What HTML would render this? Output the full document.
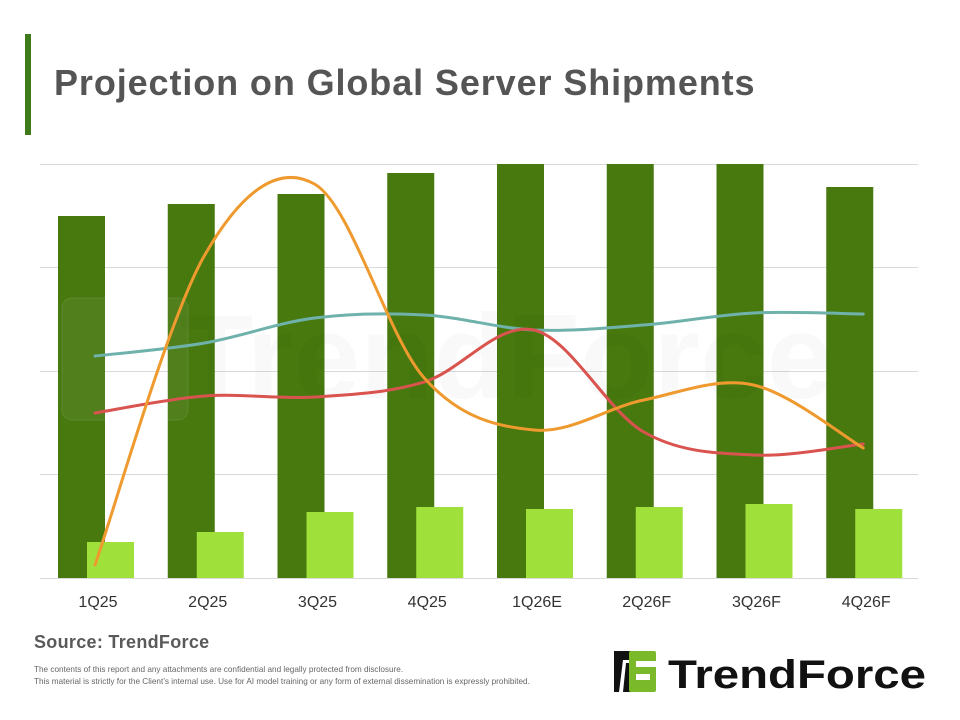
<!DOCTYPE html>
<html><head><meta charset="utf-8"><style>
html,body{margin:0;padding:0;background:#fff;}
body{width:960px;height:720px;position:relative;overflow:hidden;font-family:"Liberation Sans",sans-serif;}
.t{position:absolute;left:54px;top:62px;font-size:36px;font-weight:bold;color:#555;letter-spacing:0.9px;}
.bar{position:absolute;left:25px;top:34px;width:6px;height:101px;background:#3f7a1b;}
.src{position:absolute;left:34px;top:632px;font-size:18px;font-weight:bold;color:#5a5a5a;letter-spacing:0.3px;}
.d{position:absolute;left:34px;font-size:8.2px;color:#666;white-space:nowrap;}
</style></head><body>
<div class="bar"></div>
<div class="t">Projection on Global Server Shipments</div>
<svg id="c" width="960" height="720" style="position:absolute;left:0;top:0">
<g stroke="#d9d9d9" stroke-width="1">
<line x1="40" y1="164.5" x2="918" y2="164.5"/><line x1="40" y1="267.5" x2="918" y2="267.5"/>
<line x1="40" y1="371.5" x2="918" y2="371.5"/><line x1="40" y1="474.5" x2="918" y2="474.5"/>
<line x1="40" y1="578.5" x2="918" y2="578.5"/></g>
<g id="bars"></g>
<text x="180" y="398" font-size="120" font-weight="bold" fill="#000" fill-opacity="0.025" font-family="Liberation Sans">TrendForce</text>
<rect x="62" y="298" width="126" height="122" rx="10" fill="#fff" fill-opacity="0.05" stroke="#fff" stroke-opacity="0.1"/>
<g id="lines" fill="none" stroke-width="3" stroke-linecap="round"></g>
<g id="lab" font-size="16" fill="#333" text-anchor="middle" font-family="Liberation Sans"></g>
<g transform="translate(614,650)">
<polygon points="0,1 30,1 27,10 9,10 5,42 0,42" fill="#111"/>
<polygon points="12,13 20,13 18,42 9,42" fill="#111"/>
<rect x="15" y="1" width="27" height="41" rx="2" fill="#7ab929"/>
<rect x="22" y="11" width="20" height="6" fill="#fff"/>
<rect x="22" y="24" width="14" height="6" fill="#fff"/>
<text x="54" y="38" font-size="40" font-weight="bold" fill="#111" font-family="Liberation Sans" textLength="258" lengthAdjust="spacingAndGlyphs">TrendForce</text>
</g>
</svg>
<div class="src">Source: TrendForce</div>
<div class="d" style="top:665px">The contents of this report and any attachments are confidential and legally protected from disclosure.</div>
<div class="d" style="top:677px">This material is strictly for the Client’s internal use. Use for AI model training or any form of external dissemination is expressly prohibited.</div>
<script>
var ns="http://www.w3.org/2000/svg";
var dark=[216,204,194,173,164,164,164,187],light=[542,532,512,507,509,507,504,509];
var labs=["1Q25","2Q25","3Q25","4Q25","1Q26E","2Q26F","3Q26F","4Q26F"];
var b=document.getElementById("bars"),l=document.getElementById("lab");
function el(p,t,a){var e=document.createElementNS(ns,t);for(var k in a)e.setAttribute(k,a[k]);p.appendChild(e);return e;}
for(var i=0;i<8;i++){var x=58+109.75*i;
el(b,"rect",{x:x,y:dark[i],width:47,height:578-dark[i],fill:"#47790f"});
el(b,"rect",{x:x+29,y:light[i],width:47,height:578-light[i],fill:"#a0e03a"});
var t=el(l,"text",{x:x+40,y:607});t.textContent=labs[i];}
var xs=[];for(i=0;i<8;i++)xs.push(95+109.75*i);
function path(ys){var p=xs.map(function(x,i){return[x,ys[i]]});var d="M"+p[0][0]+","+p[0][1];
for(var i=0;i<p.length-1;i++){var p0=p[i-1]||p[i],p1=p[i],p2=p[i+1],p3=p[i+2]||p2;
d+=" C"+(p1[0]+(p2[0]-p0[0])/6)+","+(p1[1]+(p2[1]-p0[1])/6)+" "+(p2[0]-(p3[0]-p1[0])/6)+","+(p2[1]-(p3[1]-p1[1])/6)+" "+p2[0]+","+p2[1];}return d;}
var g=document.getElementById("lines");
el(g,"path",{d:path([356,343,318,315,330,325,313,314]),stroke:"#6fb2ac"});
el(g,"path",{d:path([413,396,397,382,330,432,455,444]),stroke:"#d9534f"});
el(g,"path",{d:path([565,255,184,378,430,400,385,448]),stroke:"#ef9a2f"});
</script>
</body></html>
